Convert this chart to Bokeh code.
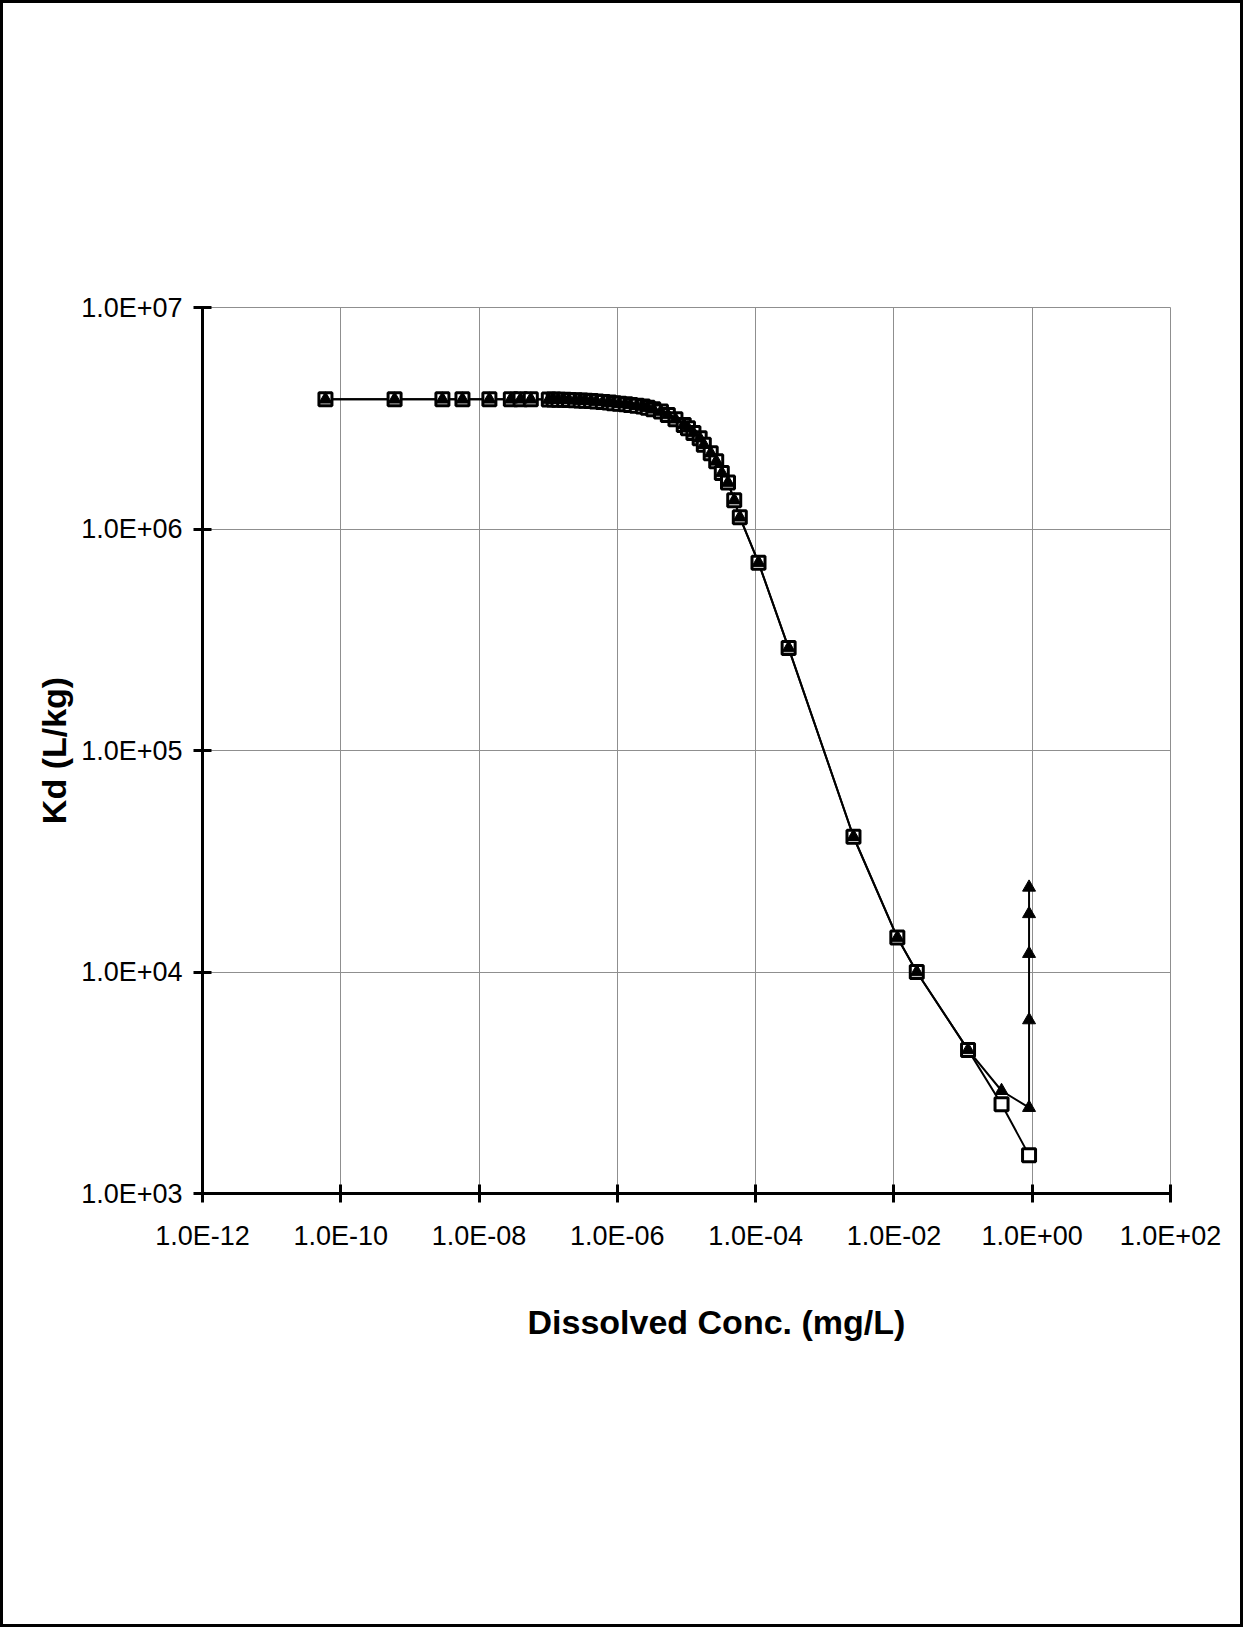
from bokeh.plotting import figure
from bokeh.models import Range1d, FixedTicker, Title
from bokeh.embed import file_html
from bokeh.resources import INLINE

# ---- data ----
conc_common = [6.0e-11, 6.0e-10, 2.95e-9, 5.75e-9, 1.41e-8, 2.88e-8, 3.98e-8, 5.6e-8,
               1.02e-7, 1.20e-7, 1.41e-7, 1.70e-7, 2.0e-7, 2.45e-7, 2.95e-7, 3.47e-7,
               4.17e-7, 5.0e-7, 6.17e-7, 7.59e-7, 8.9e-7, 1.07e-6, 1.32e-6, 1.55e-6,
               1.91e-6, 2.34e-6, 2.75e-6, 3.31e-6, 4.27e-6, 5.37e-6, 6.92e-6, 9.12e-6,
               1.05e-5, 1.26e-5, 1.55e-5, 1.78e-5, 2.24e-5, 2.69e-5, 3.24e-5, 3.98e-5,
               4.9e-5, 5.9e-5, 1.1e-4, 3.0e-4, 2.6e-3, 1.12e-2, 2.14e-2, 0.118]
kd_common = [3.85e6, 3.85e6, 3.85e6, 3.85e6, 3.85e6, 3.85e6, 3.85e6, 3.85e6,
             3.84e6, 3.84e6, 3.83e6, 3.83e6, 3.82e6, 3.81e6, 3.80e6, 3.79e6,
             3.78e6, 3.76e6, 3.74e6, 3.72e6, 3.70e6, 3.68e6, 3.66e6, 3.63e6,
             3.60e6, 3.57e6, 3.53e6, 3.47e6, 3.39e6, 3.27e6, 3.13e6, 2.95e6,
             2.85e6, 2.71e6, 2.57e6, 2.40e6, 2.20e6, 2.02e6, 1.79e6, 1.62e6,
             1.35e6, 1.13e6, 7.05e5, 2.9e5, 4.08e4, 1.43e4, 1.0e4, 4.45e3]

conc_square_tail = [0.36, 0.9]
kd_square_tail = [2530, 1490]

conc_triangle_tail = [0.36, 0.9, 0.9, 0.9, 0.9, 0.9]
kd_triangle_tail = [2910, 2440, 6070, 12100, 18300, 24100]

x_ticks = [1e-12, 1e-10, 1e-8, 1e-6, 1e-4, 1e-2, 1e0, 1e2]
x_tick_labels = ["1.0E-12", "1.0E-10", "1.0E-08", "1.0E-06", "1.0E-04",
                 "1.0E-02", "1.0E+00", "1.0E+02"]
y_ticks = [1e3, 1e4, 1e5, 1e6, 1e7]
y_tick_labels = ["1.0E+03", "1.0E+04", "1.0E+05", "1.0E+06", "1.0E+07"]

x_title = "Dissolved Conc.  (mg/L)"
y_title = "Kd (L/kg)"

conc_sq = conc_common + conc_square_tail
kd_sq = kd_common + kd_square_tail
conc_tri = conc_common + conc_triangle_tail
kd_tri = kd_common + kd_triangle_tail

FONT = "Liberation Sans"
GRID = "#8f8f8f"

p = figure(width=1243, height=1627, x_axis_type="log", y_axis_type="log",
           x_range=Range1d(1e-12, 1e2), y_range=Range1d(1e3, 1e7),
           output_backend="svg", toolbar_location=None,
           min_border_left=202, min_border_right=73,
           min_border_top=307, min_border_bottom=434)

p.background_fill_color = "white"
p.border_fill_color = "white"
p.border_fill_alpha = 0
p.outline_line_color = GRID
p.outline_line_width = 1
# page frame drawn round the whole picture
p.styles = {"box-shadow": "inset 0 0 0 3px black", "background-color": "white"}

p.xgrid.ticker = FixedTicker(ticks=x_ticks)
p.ygrid.ticker = FixedTicker(ticks=y_ticks)
for g in (p.xgrid, p.ygrid):
    g.grid_line_color = GRID
    g.grid_line_width = 1

p.xaxis.ticker = FixedTicker(ticks=x_ticks)
p.yaxis.ticker = FixedTicker(ticks=y_ticks)
p.xaxis.major_label_overrides = dict(zip(x_ticks, x_tick_labels))
p.yaxis.major_label_overrides = dict(zip(y_ticks, y_tick_labels))

for ax in (p.xaxis, p.yaxis):
    ax.axis_line_width = 3
    ax.axis_line_color = "black"
    ax.major_tick_line_width = 3
    ax.major_tick_line_color = "black"
    ax.major_tick_in = 9
    ax.major_tick_out = 9
    ax.minor_tick_line_color = None
    ax.major_label_text_font = FONT
    ax.major_label_text_font_size = "27px"
    ax.major_label_text_color = "black"

p.xaxis.major_label_standoff = 18
p.yaxis.major_label_standoff = 11

p.yaxis.axis_label = y_title
p.yaxis.axis_label_text_font = FONT
p.yaxis.axis_label_text_font_size = "34px"
p.yaxis.axis_label_text_font_style = "bold"
p.yaxis.axis_label_text_color = "black"
p.yaxis.axis_label_standoff = 5

p.add_layout(Title(text=x_title, align="left", offset=325,
                   text_font=FONT, text_font_size="34px",
                   text_font_style="bold", text_color="black",
                   standoff=94), "below")

# series lines
p.line(conc_sq, kd_sq, line_color="black", line_width=2)
p.line(conc_tri, kd_tri, line_color="black", line_width=2)

# markers
p.scatter(conc_sq, kd_sq, marker="square", size=13, fill_color="white",
          line_color="black", line_width=3)
p.scatter(conc_tri, kd_tri, marker="triangle", size=13, fill_color="black",
          line_color="black", line_width=1)

open("out.html", "w").write(file_html(p, INLINE))
